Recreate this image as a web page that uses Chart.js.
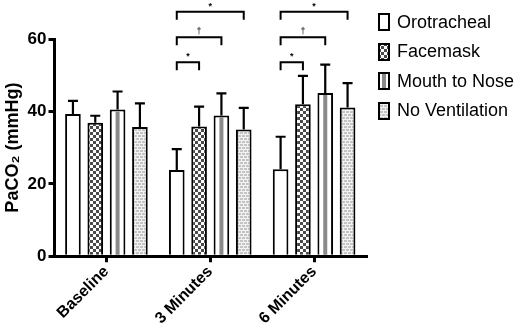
<!DOCTYPE html>
<html>
<head>
<meta charset="utf-8">
<script src="https://cdn.jsdelivr.net/npm/chart.js@4"></script>
<style>
  body { margin: 0; background: #fff; }
  #wrap { position: relative; width: 517px; height: 331px; }
  #legend { position: absolute; left: 378px; top: 13px; font-family: "Liberation Sans", Arial, sans-serif; font-size: 18px; color: #000; }
  #legend .item { display: flex; align-items: center; height: 18px; margin-bottom: 11.5px; }
  #legend canvas { margin-right: 7px; }
</style>
</head>
<body>
<div id="wrap">
  <canvas id="myBarChart" width="517" height="331"></canvas>
  <div id="legend"></div>
</div>
<script>
// Data
const categories = ["Baseline", "3 Minutes", "6 Minutes"];
const seriesNames = ["Orotracheal", "Facemask", "Mouth to Nose", "No Ventilation"];
const orotracheal = [39.3, 23.8, 24.0];
const orotrachealErr = [3.6, 5.8, 9.0];
const facemask = [36.9, 35.8, 42.0];
const facemaskErr = [1.9, 5.5, 7.8];
const mouthToNose = [40.5, 38.9, 45.1];
const mouthToNoseErr = [5.0, 6.1, 7.8];
const noVentilation = [35.7, 35.0, 41.1];
const noVentilationErr = [6.5, 6.0, 6.7];
const yTicks = [0, 20, 40, 60];

// significance brackets: group index, from bar, to bar, height, mark
const brackets = [
  { group: 1, from: 0, to: 1, level: 53.6, mark: "*" },
  { group: 1, from: 0, to: 2, level: 60.5, mark: "†" },
  { group: 1, from: 0, to: 3, level: 67.5, mark: "*" },
  { group: 2, from: 0, to: 1, level: 53.6, mark: "*" },
  { group: 2, from: 0, to: 2, level: 60.5, mark: "†" },
  { group: 2, from: 0, to: 3, level: 67.5, mark: "*" },
];

const errors = [orotrachealErr, facemaskErr, mouthToNoseErr, noVentilationErr];

// Fill patterns
function checkerPattern() {
  const c = document.createElement("canvas");
  c.width = 6; c.height = 6;
  const g = c.getContext("2d");
  g.fillStyle = "#fff"; g.fillRect(0, 0, 6, 6);
  g.fillStyle = "#4a4a4a";
  g.fillRect(0, 0, 3, 3); g.fillRect(3, 3, 3, 3);
  return g.createPattern(c, "repeat");
}
function brickPattern() {
  const c = document.createElement("canvas");
  c.width = 8; c.height = 6;
  const g = c.getContext("2d");
  g.fillStyle = "#f2f2f2"; g.fillRect(0, 0, 8, 6);
  g.fillStyle = "#c4c4c4";
  g.fillRect(0, 0, 3, 2); g.fillRect(4, 0, 3, 2);
  g.fillRect(2, 3, 3, 2); g.fillRect(6, 3, 2, 2); g.fillRect(0, 3, 1, 2);
  return g.createPattern(c, "repeat");
}
const fills = ["#ffffff", checkerPattern(), "#ffffff", brickPattern()];

// Stripes for mouth-to-nose bars, error bars, brackets
const extrasPlugin = {
  id: "extras",
  afterDatasetsDraw(chart) {
    const ctx = chart.ctx;
    const y = chart.scales.y;
    ctx.save();
    // gray center stripe
    chart.getDatasetMeta(2).data.forEach((el) => {
      ctx.fillStyle = "#8a8a8a";
      ctx.fillRect(el.x - 2, el.y + 2, 4, el.base - el.y - 2);
    });
    // upper error bars
    ctx.strokeStyle = "#000";
    ctx.lineWidth = 2.2;
    chart.data.datasets.forEach((ds, i) => {
      chart.getDatasetMeta(i).data.forEach((el, j) => {
        const top = y.getPixelForValue(ds.data[j] + errors[i][j]);
        ctx.beginPath();
        ctx.moveTo(el.x, el.y);
        ctx.lineTo(el.x, top);
        ctx.moveTo(el.x - 5, top);
        ctx.lineTo(el.x + 5, top);
        ctx.stroke();
      });
    });
    // brackets
    ctx.lineWidth = 2;
    ctx.fillStyle = "#000";
    ctx.textAlign = "center";
    ctx.textBaseline = "alphabetic";
    brackets.forEach((b) => {
      const x1 = chart.getDatasetMeta(b.from).data[b.group].x;
      const x2 = chart.getDatasetMeta(b.to).data[b.group].x;
      const yl = y.getPixelForValue(b.level);
      ctx.beginPath();
      ctx.moveTo(x1, yl + 8);
      ctx.lineTo(x1, yl);
      ctx.lineTo(x2, yl);
      ctx.lineTo(x2, yl + 8);
      ctx.stroke();
      ctx.font = b.mark === "*" ? "bold 9px 'Liberation Sans', Arial" : "9px 'Liberation Sans', Arial";
      ctx.fillText(b.mark, (x1 + x2) / 2, yl - 3);
    });
    ctx.restore();
  },
};

const barCtx = document.getElementById("myBarChart").getContext("2d");
const myBarChart = new Chart(barCtx, {
  type: "bar",
  data: {
    labels: categories,
    datasets: [orotracheal, facemask, mouthToNose, noVentilation].map((d, i) => ({
      label: seriesNames[i],
      data: d,
      backgroundColor: fills[i],
      borderColor: "#000",
      borderWidth: 2,
      borderSkipped: "bottom",
      categoryPercentage: 0.86,
      barPercentage: 0.7,
    })),
  },
  options: {
    responsive: false,
    animation: false,
    layout: { padding: { top: 39, right: 151, left: 2, bottom: 3 } },
    plugins: { legend: { display: false }, tooltip: { enabled: false } },
    scales: {
      x: {
        grid: { drawOnChartArea: false, offset: false, color: "#000", lineWidth: 3, tickLength: 6 },
        border: { color: "#000", width: 3 },
        ticks: {
          color: "#000",
          font: { family: "'Liberation Sans', Arial", size: 16, weight: "bold" },
          minRotation: 45,
          maxRotation: 45,
          padding: 0,
        },
      },
      y: {
        min: 0,
        max: 60,
        afterBuildTicks: (axis) => { axis.ticks = yTicks.map((v) => ({ value: v })); },
        grid: { drawOnChartArea: false, color: "#000", lineWidth: 3, tickLength: 6 },
        border: { color: "#000", width: 3 },
        ticks: {
          color: "#000",
          font: { family: "'Liberation Sans', Arial", size: 17, weight: "bold" },
          padding: 2,
        },
        title: {
          display: true,
          text: "PaCO₂ (mmHg)",
          color: "#000",
          font: { family: "'Liberation Sans', Arial", size: 18, weight: "bold" },
          padding: { top: 0, bottom: 2 },
        },
      },
    },
  },
  plugins: [extrasPlugin],
});

// HTML legend with small pattern icons
const legendEl = document.getElementById("legend");
seriesNames.forEach((name, i) => {
  const item = document.createElement("div");
  item.className = "item";
  const icon = document.createElement("canvas");
  icon.width = 12; icon.height = 18;
  const g = icon.getContext("2d");
  g.fillStyle = fills[i];
  g.fillRect(0, 0, 12, 18);
  if (i === 2) { g.fillStyle = "#8a8a8a"; g.fillRect(4, 0, 4, 18); }
  g.strokeStyle = "#000"; g.lineWidth = 2;
  g.strokeRect(1, 1, 10, 16);
  const label = document.createElement("span");
  label.textContent = name;
  item.appendChild(icon);
  item.appendChild(label);
  legendEl.appendChild(item);
});
</script>
</body>
</html>
